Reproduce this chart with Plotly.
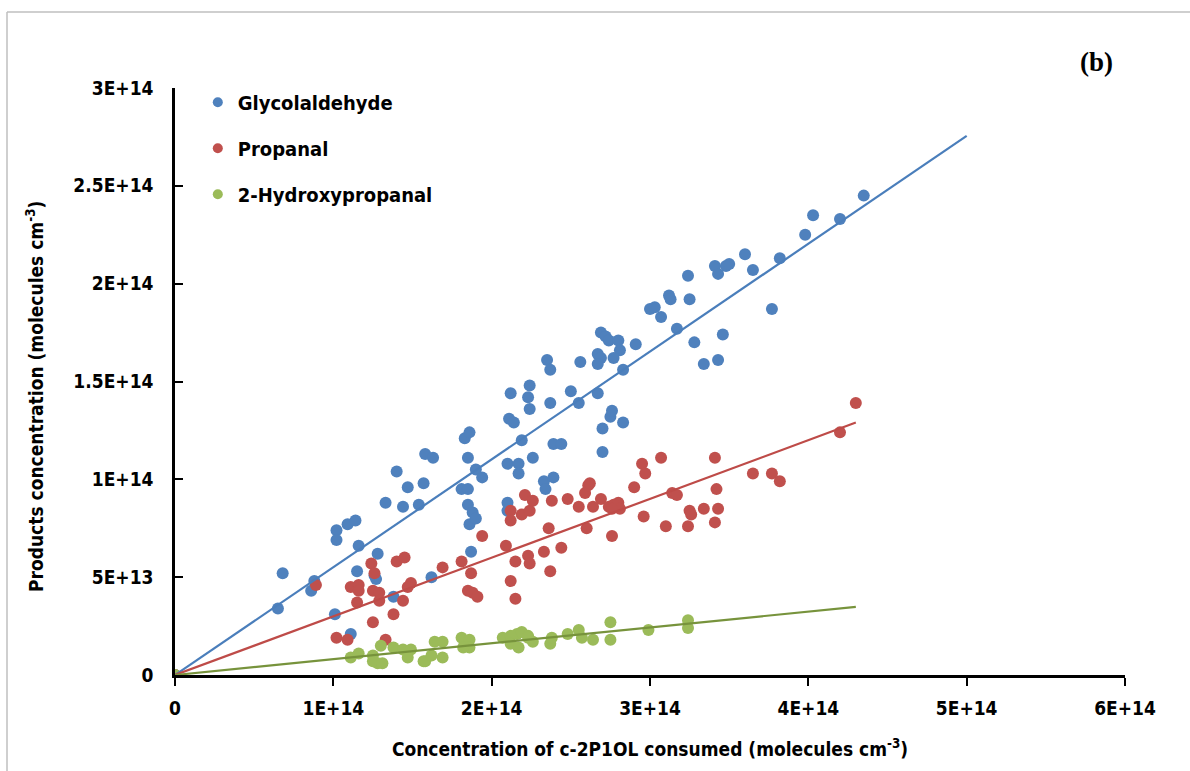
import plotly.graph_objects as go

# Concentrations in units of 1E+14 molecules cm-3
UNIT = 1e14

glyco_x = [0.00, 0.65, 0.68, 0.86, 0.88, 1.01, 1.02, 1.02, 1.09, 1.14, 1.16, 1.15, 1.11,
           1.26, 1.27, 1.28, 1.33, 1.40, 1.44, 1.47, 1.38, 1.54, 1.57, 1.58, 1.63, 1.83,
           1.86, 1.85, 1.90, 1.94, 1.81, 1.85, 1.85, 1.88, 1.86, 1.90, 1.87, 1.62, 2.10,
           2.17, 2.17, 2.26, 2.19, 2.11, 2.14, 2.12, 2.24, 2.23, 2.24, 2.35, 2.37, 2.37,
           2.39, 2.44, 2.33, 2.39, 2.34, 2.10, 2.10, 2.50, 2.56, 2.55, 2.67, 2.69, 2.72,
           2.74, 2.80, 2.81, 2.77, 2.67, 2.69, 2.67, 2.91, 2.83, 2.70, 2.75, 2.76, 2.83,
           2.70, 3.00, 3.24, 3.12, 3.13, 3.25, 3.03, 3.07, 3.17, 3.28, 3.46, 3.34, 3.43,
           3.41, 3.43, 3.48, 3.50, 3.60, 3.65, 3.82, 3.77, 3.98, 4.03, 4.20, 4.35]
glyco_y = [0.00, 0.34, 0.52, 0.43, 0.48, 0.31, 0.74, 0.69, 0.77, 0.79, 0.66, 0.53, 0.21,
           0.51, 0.49, 0.62, 0.88, 1.04, 0.86, 0.96, 0.40, 0.87, 0.98, 1.13, 1.11, 1.21,
           1.24, 1.11, 1.05, 1.01, 0.95, 0.95, 0.87, 0.83, 0.77, 0.80, 0.63, 0.50, 1.08,
           1.08, 1.03, 1.11, 1.20, 1.31, 1.29, 1.44, 1.48, 1.42, 1.36, 1.61, 1.56, 1.39,
           1.18, 1.18, 0.99, 1.01, 0.95, 0.88, 0.84, 1.45, 1.60, 1.39, 1.44, 1.75, 1.73,
           1.71, 1.71, 1.66, 1.62, 1.64, 1.62, 1.59, 1.69, 1.56, 1.26, 1.32, 1.35, 1.29,
           1.14, 1.87, 2.04, 1.94, 1.92, 1.92, 1.88, 1.83, 1.77, 1.70, 1.74, 1.59, 1.61,
           2.09, 2.05, 2.09, 2.10, 2.15, 2.07, 2.13, 1.87, 2.25, 2.35, 2.33, 2.45]

propanal_x = [0.00, 0.89, 1.02, 1.09, 1.11, 1.16, 1.16, 1.15, 1.24, 1.26, 1.25, 1.29, 1.29,
              1.25, 1.38, 1.44, 1.40, 1.45, 1.33, 1.49, 1.47, 1.69, 1.81, 1.87, 1.85, 1.88,
              1.91, 1.94, 2.09, 2.15, 2.12, 2.15, 2.12, 2.12, 2.19, 2.24, 2.21, 2.26, 2.23,
              2.24, 2.33, 2.37, 2.36, 2.38, 2.44, 2.48, 2.55, 2.59, 2.61, 2.62, 2.60, 2.64,
              2.69, 2.74, 2.77, 2.80, 2.81, 2.76, 2.76, 2.90, 2.95, 2.97, 2.96, 3.07, 3.14,
              3.17, 3.10, 3.24, 3.25, 3.26, 3.34, 3.43, 3.41, 3.41, 3.42, 3.65, 3.77, 3.82,
              4.20, 4.30]
propanal_y = [0.00, 0.46, 0.19, 0.18, 0.45, 0.46, 0.43, 0.37, 0.57, 0.52, 0.43, 0.42, 0.38,
              0.27, 0.31, 0.38, 0.58, 0.60, 0.18, 0.47, 0.45, 0.55, 0.58, 0.52, 0.43, 0.42,
              0.40, 0.71, 0.66, 0.58, 0.48, 0.39, 0.84, 0.79, 0.82, 0.84, 0.92, 0.89, 0.61,
              0.57, 0.63, 0.53, 0.75, 0.89, 0.65, 0.90, 0.86, 0.93, 0.97, 0.98, 0.75, 0.86,
              0.90, 0.86, 0.87, 0.88, 0.85, 0.85, 0.71, 0.96, 1.08, 1.03, 0.81, 1.11, 0.93,
              0.92, 0.76, 0.76, 0.84, 0.82, 0.85, 0.85, 0.78, 1.11, 0.95, 1.03, 1.03, 0.99,
              1.24, 1.39]

hydroxy_x = [0.00, 1.11, 1.16, 1.25, 1.30, 1.28, 1.25, 1.31, 1.38, 1.44, 1.49, 1.47, 1.57,
             1.58, 1.62, 1.64, 1.69, 1.69, 1.81, 1.86, 1.86, 1.82, 2.07, 2.12, 2.16, 2.19,
             2.23, 2.23, 2.12, 2.17, 2.26, 2.37, 2.38, 2.48, 2.55, 2.57, 2.64, 2.75, 2.75,
             2.99, 3.24, 3.24]
hydroxy_y = [0.00, 0.09, 0.11, 0.10, 0.15, 0.06, 0.07, 0.06, 0.14, 0.13, 0.13, 0.09, 0.07,
             0.07, 0.10, 0.17, 0.17, 0.09, 0.19, 0.18, 0.14, 0.14, 0.19, 0.20, 0.21, 0.22,
             0.20, 0.19, 0.16, 0.14, 0.17, 0.16, 0.19, 0.21, 0.23, 0.19, 0.18, 0.27, 0.18,
             0.23, 0.28, 0.24]

# Linear fits through the origin: slope and end of the drawn trend line
series_names = ["Glycolaldehyde", "Propanal", "2-Hydroxypropanal"]
fit_slopes = [0.551, 0.300, 0.081]
fit_x_end = [5.00, 4.30, 4.30]

x_ticks = [0, 1, 2, 3, 4, 5, 6]
x_tick_text = ["0", "1E+14", "2E+14", "3E+14", "4E+14", "5E+14", "6E+14"]
y_ticks = [0, 0.5, 1.0, 1.5, 2.0, 2.5, 3.0]
y_tick_text = ["0", "5E+13", "1E+14", "1.5E+14", "2E+14", "2.5E+14", "3E+14"]

marker_colors = ["#4F81BD", "#C0504D", "#9BBB59"]
line_colors = ["#4A7EBB", "#BE4B48", "#77933C"]

FONT = "Liberation Sans Narrow, DejaVu Sans Condensed, Arial Narrow, sans-serif"

xs = [glyco_x, propanal_x, hydroxy_x]
ys = [glyco_y, propanal_y, hydroxy_y]

fig = go.Figure()

for name, x, y, mc in zip(series_names, xs, ys, marker_colors):
    fig.add_trace(go.Scatter(
        x=[v * UNIT for v in x], y=[v * UNIT for v in y],
        mode="markers", name=name, showlegend=False,
        marker=dict(size=12, color=mc, line=dict(width=0)),
    ))

for name, k, xe, lc in zip(series_names, fit_slopes, fit_x_end, line_colors):
    fig.add_trace(go.Scatter(
        x=[0, xe * UNIT], y=[0, k * xe * UNIT],
        mode="lines", showlegend=False, hoverinfo="skip",
        line=dict(color=lc, width=2.2),
    ))

# Legend entries (smaller symbols than the data markers)
for i, (name, mc) in enumerate(zip(series_names, marker_colors)):
    fig.add_trace(go.Scatter(
        x=[None], y=[None], mode="markers", name=name, legendgroup=f"g{i}",
        marker=dict(size=10, color=mc),
    ))

axis_common = dict(
    showline=True, linecolor="black", linewidth=2.5, showgrid=False, zeroline=False,
    ticklen=8, tickwidth=2, tickcolor="black",
    tickfont=dict(family=FONT, size=19, color="black", weight="bold"),
    title_font=dict(family=FONT, size=19, color="black", weight="bold"),
)

fig.update_xaxes(
    range=[0, 6 * UNIT], tickmode="array",
    tickvals=[v * UNIT for v in x_ticks], ticktext=x_tick_text,
    ticks="outside", ticklabelstandoff=6,
    title_text="Concentration of c-2P1OL consumed (molecules cm<sup>-3</sup>)",
    title_standoff=26,
    **axis_common,
)
fig.update_yaxes(
    range=[0, 3 * UNIT], tickmode="array",
    tickvals=[v * UNIT for v in y_ticks], ticktext=y_tick_text,
    ticks="inside", ticklabelstandoff=15,
    **axis_common,
)

fig.update_layout(
    width=1190, height=771,
    margin=dict(l=175, r=65, t=88, b=96),
    paper_bgcolor="white", plot_bgcolor="white",
    showlegend=True,
    legend=dict(
        x=0.024, y=1.009, xanchor="left", yanchor="top",
        font=dict(family=FONT, size=20, color="black", weight="bold"),
        tracegroupgap=17, bgcolor="rgba(0,0,0,0)",
    ),
    annotations=[
        dict(
            text="<b>(b)</b>", xref="paper", yref="paper",
            x=(1096 - 175) / 950, y=(675 - 62) / 587,
            showarrow=False, xanchor="center", yanchor="middle",
            font=dict(family="Liberation Serif, Times New Roman, serif", size=27, color="black"),
        ),
        dict(
            text="<b>Products concentration (molecules cm<sup>-3</sup>)</b>",
            xref="paper", yref="paper",
            x=(35 - 175) / 950, y=(675 - 397) / 587,
            textangle=-90, showarrow=False, xanchor="center", yanchor="middle",
            font=dict(family=FONT, size=19, color="black"),
        ),
    ],
    shapes=[
        dict(type="line", xref="paper", yref="paper",
             x0=(7 - 175) / 950, x1=1.2, y0=(675 - 12) / 587, y1=(675 - 12) / 587,
             line=dict(color="#BFBFBF", width=1.5)),
        dict(type="line", xref="paper", yref="paper",
             x0=(7 - 175) / 950, x1=(7 - 175) / 950, y0=(675 - 12) / 587, y1=-0.3,
             line=dict(color="#BFBFBF", width=1.5)),
    ],
)

fig.write_html("out.html")
